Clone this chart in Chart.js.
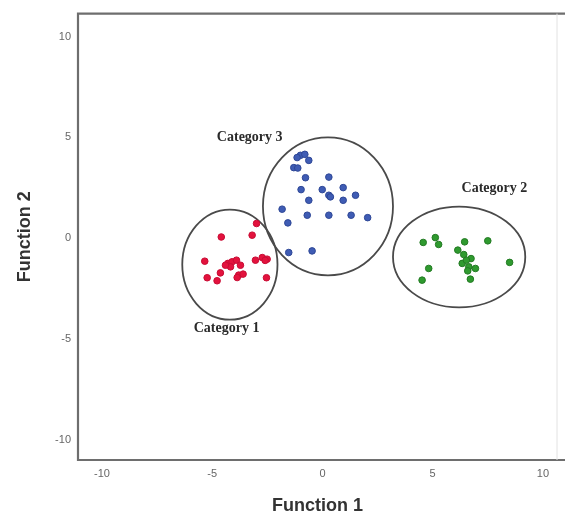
<!DOCTYPE html>
<html>
<head>
<meta charset="utf-8">
<script src="https://cdn.jsdelivr.net/npm/chart.js@4"></script>
<style>
  html, body { margin: 0; padding: 0; background: #fff; }
  #wrap { width: 566px; height: 515px; }
</style>
</head>
<body>
<div id="wrap"><canvas id="chart" width="566" height="515"></canvas></div>
<script>
// Category 1 (red)
const cat1X = [-2.99, -4.59, -3.19, -5.34, -4.29, -4.10, -3.90, -4.17, -3.72, -4.63, -5.23, -4.78, -3.80, -3.60, -3.87, -3.04, -2.73, -2.51, -2.60, -2.54, -4.40];
const cat1Y = [0.73, 0.06, 0.15, -1.14, -1.25, -1.17, -1.09, -1.42, -1.34, -1.72, -1.96, -2.11, -1.83, -1.78, -1.95, -1.09, -0.96, -1.04, -1.10, -1.96, -1.34];

// Category 2 (green)
const cat2X = [4.57, 5.12, 5.27, 6.45, 7.50, 6.14, 6.41, 6.74, 6.34, 6.64, 6.94, 6.59, 6.71, 4.82, 4.52, 8.49, 6.53];
const cat2Y = [-0.21, 0.03, -0.31, -0.18, -0.13, -0.59, -0.81, -1.01, -1.25, -1.42, -1.50, -1.62, -2.03, -1.50, -2.08, -1.20, -1.09];

// Category 3 (blue)
const cat3X = [-1.00, -0.80, -1.15, -0.62, -1.30, -1.12, -0.77, 0.29, -0.97, -0.01, 0.29, 0.36, 0.94, 1.50, -0.62, 0.94, -1.83, -0.69, 0.29, 1.30, 2.05, -1.57, -1.53, -0.47];
const cat3Y = [4.11, 4.16, 4.00, 3.86, 3.50, 3.48, 3.00, 3.03, 2.41, 2.41, 2.13, 2.05, 2.51, 2.13, 1.88, 1.88, 1.44, 1.14, 1.14, 1.14, 1.02, 0.76, -0.71, -0.63];

// group ellipses: [centerX, centerY, radiusX, radiusY] in data units
const cat1Ellipse = [-4.2, -1.31, 2.16, 2.73];
const cat2Ellipse = [6.2, -0.93, 3.0, 2.5];
const cat3Ellipse = [0.25, 1.58, 2.95, 3.42];

const groupNames = ['Category 1', 'Category 2', 'Category 3'];
// label anchor points in data units
const labelX = [-4.35, 7.8, -3.3];
const labelY = [-4.46, 2.47, 5.0];

const xTicks = [-10, -5, 0, 5, 10];
const yTicks = [-10, -5, 0, 5, 10];

const toPoints = (xs, ys) => xs.map((x, i) => ({ x: x, y: ys[i] }));

// ellipses, group labels and the frame
const overlayPlugin = {
    id: 'overlay',
    beforeDatasetsDraw(chart) {
        const { ctx, scales: { x, y } } = chart;
        ctx.save();
        ctx.strokeStyle = '#4a4a4a';
        ctx.lineWidth = 1.8;
        [cat1Ellipse, cat2Ellipse, cat3Ellipse].forEach(e => {
            const cx = x.getPixelForValue(e[0]);
            const cy = y.getPixelForValue(e[1]);
            const rx = Math.abs(x.getPixelForValue(e[0] + e[2]) - cx);
            const ry = Math.abs(y.getPixelForValue(e[1] + e[3]) - cy);
            ctx.beginPath();
            ctx.ellipse(cx, cy, rx, ry, 0, 0, Math.PI * 2);
            ctx.stroke();
        });

        ctx.fillStyle = '#2a2a2a';
        ctx.font = 'bold 14px "Liberation Serif", "Times New Roman", serif';
        ctx.textAlign = 'center';
        ctx.textBaseline = 'middle';
        groupNames.forEach((name, i) => {
            ctx.fillText(name, x.getPixelForValue(labelX[i]), y.getPixelForValue(labelY[i]));
        });
        ctx.restore();
    },
    afterDraw(chart) {
        const { ctx, chartArea: a } = chart;
        ctx.save();
        ctx.lineWidth = 2.2;
        ctx.strokeStyle = '#6e6e6e';
        ctx.beginPath();
        ctx.moveTo(a.right + 8, a.top);
        ctx.lineTo(a.left, a.top);
        ctx.lineTo(a.left, a.bottom);
        ctx.lineTo(a.right + 8, a.bottom);
        ctx.stroke();
        ctx.lineWidth = 1;
        ctx.strokeStyle = '#e2e2e2';
        ctx.beginPath();
        ctx.moveTo(a.right, a.top);
        ctx.lineTo(a.right, a.bottom);
        ctx.stroke();
        ctx.restore();
    }
};

const tickFont = { family: '"Liberation Sans", Arial, sans-serif', size: 11 };
const titleFont = { family: '"Liberation Sans", Arial, sans-serif', size: 18, weight: 'bold', lineHeight: 1.0 };

new Chart(document.getElementById('chart'), {
    type: 'scatter',
    data: {
        datasets: [
            {
                label: groupNames[0],
                data: toPoints(cat1X, cat1Y),
                backgroundColor: '#e3123d',
                borderColor: '#c80c34',
                borderWidth: 1,
                pointRadius: 3.3
            },
            {
                label: groupNames[1],
                data: toPoints(cat2X, cat2Y),
                backgroundColor: '#2f9a2f',
                borderColor: '#237a23',
                borderWidth: 1,
                pointRadius: 3.3
            },
            {
                label: groupNames[2],
                data: toPoints(cat3X, cat3Y),
                backgroundColor: '#3f5cb4',
                borderColor: '#2e4796',
                borderWidth: 1,
                pointRadius: 3.3
            }
        ]
    },
    options: {
        responsive: false,
        animation: false,
        layout: { padding: { top: 13, right: 9, left: 0, bottom: 0 } },
        plugins: {
            legend: { display: false },
            tooltip: { enabled: false }
        },
        scales: {
            x: {
                type: 'linear',
                min: -11.09,
                max: 10.64,
                afterBuildTicks: scale => { scale.ticks = xTicks.map(v => ({ value: v })); },
                afterFit: scale => { scale.height = 55; },
                grid: { display: false, drawTicks: false },
                border: { display: false },
                ticks: { color: '#666', font: tickFont, padding: 7 },
                title: { display: true, text: 'Function 1', color: '#333', font: titleFont, padding: { top: 0, bottom: 0 } }
            },
            y: {
                type: 'linear',
                min: -11.0,
                max: 11.14,
                afterBuildTicks: scale => { scale.ticks = yTicks.map(v => ({ value: v })); },
                afterFit: scale => { scale.width = 78; },
                grid: { display: false, drawTicks: false },
                border: { display: false },
                ticks: { color: '#666', font: tickFont, padding: 7 },
                title: { display: true, text: 'Function 2', color: '#333', font: titleFont, padding: { top: 16, bottom: 0 } }
            }
        }
    },
    plugins: [overlayPlugin]
});
</script>
</body>
</html>
